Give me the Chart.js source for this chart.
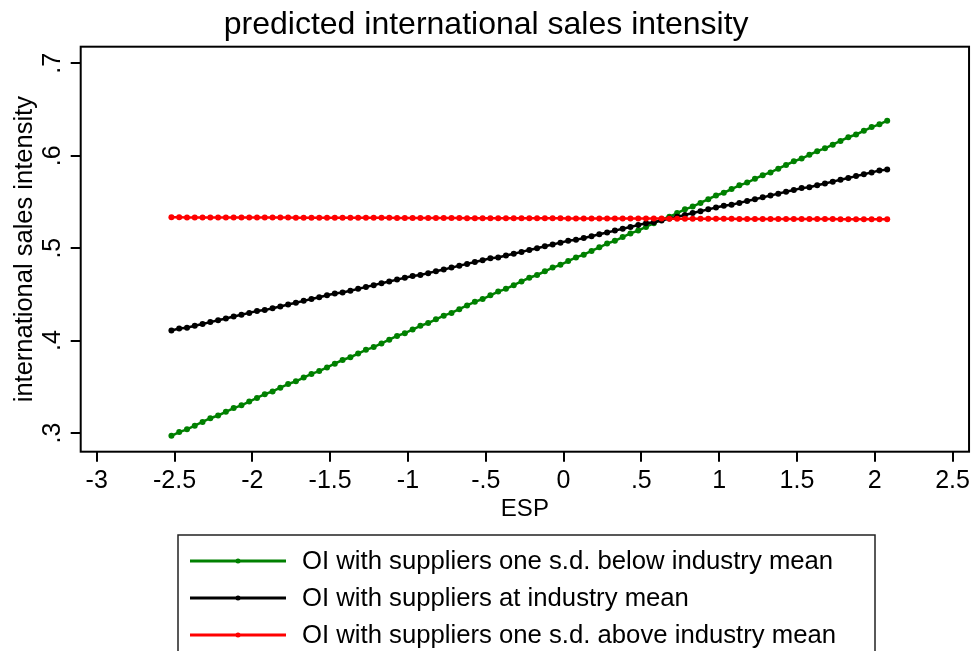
<!DOCTYPE html>
<html>
<head>
<meta charset="utf-8">
<script src="https://cdn.jsdelivr.net/npm/chart.js@4/dist/chart.umd.min.js"></script>
<style>
  html, body { margin: 0; padding: 0; background: #fff; }
</style>
</head>
<body>
<canvas id="marginsChart" width="974" height="651"></canvas>
<script>
const espValues = [
  -2.52, -2.47, -2.42, -2.37, -2.32, -2.27, -2.22, -2.17, -2.12, -2.07,
  -2.02, -1.97, -1.92, -1.87, -1.82, -1.77, -1.72, -1.67, -1.62, -1.57,
  -1.52, -1.47, -1.42, -1.37, -1.32, -1.27, -1.22, -1.17, -1.12, -1.07,
  -1.02, -0.97, -0.92, -0.87, -0.82, -0.77, -0.72, -0.67, -0.62, -0.57,
  -0.52, -0.47, -0.42, -0.37, -0.32, -0.27, -0.22, -0.17, -0.12, -0.07,
  -0.02, 0.03, 0.08, 0.13, 0.18, 0.23, 0.28, 0.33, 0.38, 0.43,
  0.48, 0.53, 0.58, 0.63, 0.68, 0.73, 0.78, 0.83, 0.88, 0.93,
  0.98, 1.03, 1.08, 1.13, 1.18, 1.23, 1.28, 1.33, 1.38, 1.43,
  1.48, 1.53, 1.58, 1.63, 1.68, 1.73, 1.78, 1.83, 1.88, 1.93,
  1.98, 2.03, 2.08
];

const belowMean = [
  0.297, 0.301, 0.304, 0.308, 0.312, 0.316, 0.319, 0.323, 0.327, 0.330,
  0.334, 0.338, 0.342, 0.345, 0.349, 0.353, 0.356, 0.360, 0.364, 0.367,
  0.371, 0.375, 0.379, 0.382, 0.386, 0.390, 0.393, 0.397, 0.401, 0.405,
  0.408, 0.412, 0.416, 0.419, 0.423, 0.427, 0.430, 0.434, 0.438, 0.442,
  0.445, 0.449, 0.453, 0.456, 0.460, 0.464, 0.468, 0.471, 0.475, 0.479,
  0.482, 0.486, 0.490, 0.493, 0.497, 0.501, 0.505, 0.508, 0.512, 0.516,
  0.519, 0.523, 0.527, 0.531, 0.534, 0.538, 0.542, 0.545, 0.549, 0.553,
  0.557, 0.560, 0.564, 0.568, 0.571, 0.575, 0.579, 0.582, 0.586, 0.590,
  0.594, 0.597, 0.601, 0.605, 0.608, 0.612, 0.616, 0.620, 0.623, 0.627,
  0.631, 0.634, 0.638
];

const atMean = [
  0.411, 0.413, 0.414, 0.416, 0.418, 0.420, 0.422, 0.424, 0.426, 0.428,
  0.430, 0.432, 0.433, 0.435, 0.437, 0.439, 0.441, 0.443, 0.445, 0.447,
  0.449, 0.451, 0.452, 0.454, 0.456, 0.458, 0.460, 0.462, 0.464, 0.466,
  0.468, 0.470, 0.471, 0.473, 0.475, 0.477, 0.479, 0.481, 0.483, 0.485,
  0.487, 0.489, 0.490, 0.492, 0.494, 0.496, 0.498, 0.500, 0.502, 0.504,
  0.506, 0.508, 0.509, 0.511, 0.513, 0.515, 0.517, 0.519, 0.521, 0.523,
  0.525, 0.527, 0.528, 0.530, 0.532, 0.534, 0.536, 0.538, 0.540, 0.542,
  0.544, 0.546, 0.547, 0.549, 0.551, 0.553, 0.555, 0.557, 0.559, 0.561,
  0.563, 0.565, 0.566, 0.568, 0.570, 0.572, 0.574, 0.576, 0.578, 0.580,
  0.582, 0.584, 0.585
];

const aboveMean = [
  0.5334, 0.5334, 0.5333, 0.5333, 0.5333, 0.5333, 0.5333, 0.5332, 0.5332, 0.5332,
  0.5332, 0.5331, 0.5331, 0.5331, 0.5331, 0.5331, 0.5330, 0.5330, 0.5330, 0.5330,
  0.5329, 0.5329, 0.5329, 0.5329, 0.5328, 0.5328, 0.5328, 0.5328, 0.5328, 0.5327,
  0.5327, 0.5327, 0.5327, 0.5326, 0.5326, 0.5326, 0.5326, 0.5326, 0.5325, 0.5325,
  0.5325, 0.5325, 0.5324, 0.5324, 0.5324, 0.5324, 0.5323, 0.5323, 0.5323, 0.5323,
  0.5323, 0.5322, 0.5322, 0.5322, 0.5322, 0.5321, 0.5321, 0.5321, 0.5321, 0.5320,
  0.5320, 0.5320, 0.5320, 0.5320, 0.5319, 0.5319, 0.5319, 0.5319, 0.5318, 0.5318,
  0.5318, 0.5318, 0.5318, 0.5317, 0.5317, 0.5317, 0.5317, 0.5316, 0.5316, 0.5316,
  0.5316, 0.5316, 0.5315, 0.5315, 0.5315, 0.5315, 0.5314, 0.5314, 0.5314, 0.5314,
  0.5313, 0.5313, 0.5313
];

const seriesLabels = [
  "OI with suppliers one s.d. below industry mean",
  "OI with suppliers at industry mean",
  "OI with suppliers one s.d. above industry mean",
];
const seriesColors = ["rgb(0, 128, 0)", "#000000", "#ff0000"];

const xTickValues = [-3, -2.5, -2, -1.5, -1, -0.5, 0, 0.5, 1, 1.5, 2, 2.5];
const xTickLabels = ["-3", "-2.5", "-2", "-1.5", "-1", "-.5", "0", ".5", "1", "1.5", "2", "2.5"];
const yTickValues = [0.3, 0.4, 0.5, 0.6, 0.7];
const yTickLabels = [".3", ".4", ".5", ".6", ".7"];

const FONT = "'Liberation Sans', Arial, Helvetica, sans-serif";

function toPoints(ys) {
  return ys.map((y, i) => ({ x: espValues[i], y: y }));
}

// frame round the plot region, like stata's plotregion
const plotFrame = {
  id: "plotFrame",
  beforeDatasetsDraw(chart) {
    const { ctx, chartArea: a } = chart;
    ctx.save();
    ctx.strokeStyle = "#000";
    ctx.lineWidth = 2;
    ctx.strokeRect(a.left, a.top, a.right - a.left, a.bottom - a.top);
    ctx.restore();
  },
};

// boxed legend below the x axis, one series per row
const boxLegend = {
  id: "boxLegend",
  afterDraw(chart) {
    const ctx = chart.ctx;
    const box = { left: 178, right: 875, top: 535, firstRow: 561, rowGap: 37 };
    ctx.save();
    ctx.strokeStyle = "#222";
    ctx.lineWidth = 1.5;
    ctx.strokeRect(box.left, box.top, box.right - box.left, chart.height + 20 - box.top);
    ctx.font = "25.7px " + FONT;
    ctx.textBaseline = "middle";
    ctx.textAlign = "left";
    chart.data.datasets.forEach((ds, i) => {
      const y = box.firstRow + i * box.rowGap;
      ctx.strokeStyle = ds.borderColor;
      ctx.lineWidth = 3;
      ctx.beginPath();
      ctx.moveTo(190, y);
      ctx.lineTo(286, y);
      ctx.stroke();
      ctx.fillStyle = ds.borderColor;
      ctx.beginPath();
      ctx.arc(238, y, 2.5, 0, Math.PI * 2);
      ctx.fill();
      ctx.fillStyle = "#000";
      ctx.fillText(ds.label, 302, y + 1);
    });
    ctx.restore();
  },
};

const datasets = [belowMean, atMean, aboveMean].map((ys, i) => ({
  label: seriesLabels[i],
  data: toPoints(ys),
  borderColor: seriesColors[i],
  backgroundColor: seriesColors[i],
  pointBackgroundColor: seriesColors[i],
  pointBorderWidth: 0,
  pointRadius: 3,
  borderWidth: 2.5,
  tension: 0,
  fill: false,
  order: 3 - i,
}));

new Chart(document.getElementById("marginsChart"), {
  type: "line",
  data: { datasets: datasets },
  options: {
    responsive: false,
    animation: false,
    layout: {
      padding: { left: 0, right: 1.7, top: 0, bottom: 124.3 },
    },
    plugins: {
      legend: { display: false },
      tooltip: { enabled: false },
      title: {
        display: true,
        text: "predicted international sales intensity",
        color: "#000",
        font: { family: FONT, size: 32, weight: "normal" },
        padding: { top: 5.8, bottom: 2.5 },
      },
    },
    scales: {
      x: {
        type: "linear",
        min: -3.103,
        max: 2.606,
        afterFit: (scale) => {
          scale.height = 75;
        },
        afterBuildTicks: (scale) => {
          scale.ticks = xTickValues.map((v) => ({ value: v }));
        },
        border: { display: false },
        grid: {
          drawOnChartArea: false,
          drawTicks: true,
          tickLength: 10,
          color: "#000",
          lineWidth: 2,
        },
        ticks: {
          autoSkip: false,
          maxRotation: 0,
          minRotation: 0,
          padding: 4,
          color: "#000",
          font: { family: FONT, size: 25 },
          callback: (value) => xTickLabels[xTickValues.indexOf(value)],
        },
        title: {
          display: true,
          text: "ESP",
          color: "#000",
          font: { family: FONT, size: 24 },
          padding: { top: 0, bottom: 3.3 },
        },
      },
      y: {
        type: "linear",
        min: 0.2798,
        max: 0.718,
        afterFit: (scale) => {
          scale.width = 80.7;
        },
        afterBuildTicks: (scale) => {
          scale.ticks = yTickValues.map((v) => ({ value: v }));
        },
        border: { display: false },
        grid: {
          drawOnChartArea: false,
          drawTicks: true,
          tickLength: 10,
          color: "#000",
          lineWidth: 2,
        },
        ticks: {
          minRotation: 90,
          maxRotation: 90,
          crossAlign: "center",
          padding: 7.5,
          color: "#000",
          font: { family: FONT, size: 25 },
          callback: (value) => yTickLabels[yTickValues.indexOf(value)],
        },
        title: {
          display: true,
          text: "international sales intensity",
          color: "#000",
          font: { family: FONT, size: 25.5 },
          padding: { top: 9.5, bottom: 0 },
        },
      },
    },
  },
  plugins: [plotFrame, boxLegend],
});
</script>
</body>
</html>
